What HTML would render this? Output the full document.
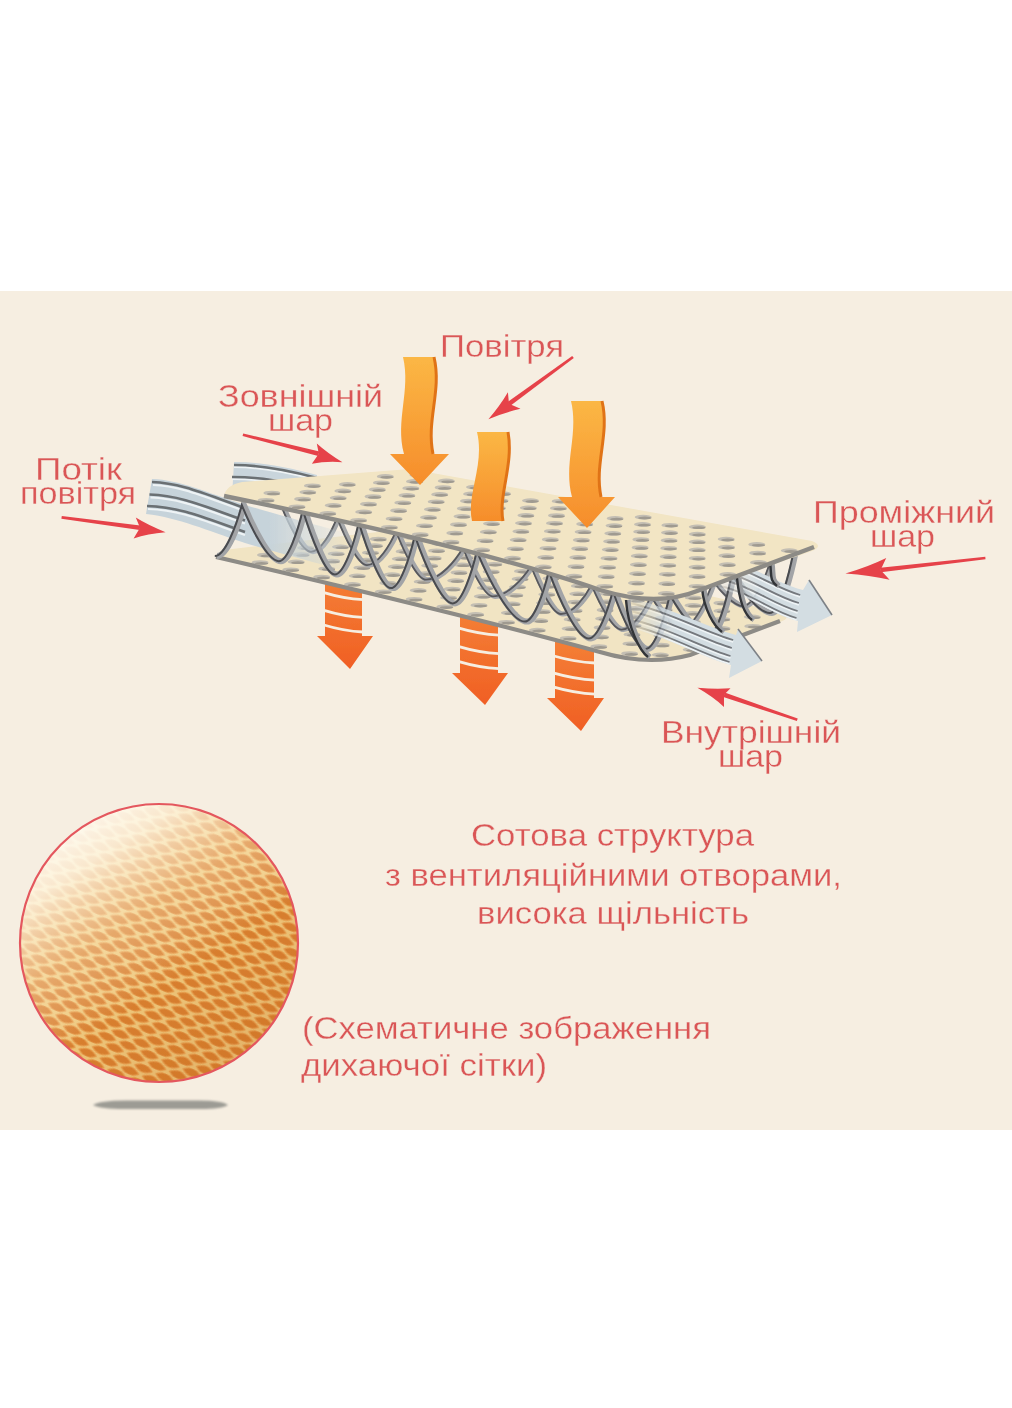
<!DOCTYPE html><html><head><meta charset="utf-8"><style>
html,body{margin:0;padding:0;background:#fff;}
body{width:1012px;height:1408px;overflow:hidden;position:relative;}
svg{position:absolute;left:0;top:0;}
text{font-family:"Liberation Sans",sans-serif;}
</style></head><body>
<svg width="1012" height="1408" viewBox="0 0 1012 1408">
<defs>
<pattern id="dots" width="39" height="9.6" patternUnits="userSpaceOnUse" patternTransform="translate(222,495) skewY(11)">
<g transform="translate(19,5) skewY(-11)"><ellipse cx="0" cy="0" rx="8" ry="2.7" fill="#c5c1b7"/>
<ellipse cx="1.5" cy="0.9" rx="6.5" ry="1.7" fill="#a7a297"/></g>
</pattern>
<linearGradient id="og1" x1="0" y1="0" x2="0" y2="1">
<stop offset="0" stop-color="#fbb745"/><stop offset="1" stop-color="#f68d2b"/>
</linearGradient>
<linearGradient id="og2" x1="0" y1="0" x2="0" y2="1">
<stop offset="0" stop-color="#f58438"/><stop offset="1" stop-color="#f05f24"/>
</linearGradient>
<linearGradient id="bandfade" x1="0" y1="0" x2="1" y2="0">
<stop offset="0" stop-color="#c6d3da" stop-opacity="1"/><stop offset="0.6" stop-color="#c6d3da" stop-opacity="1"/><stop offset="1" stop-color="#c6d3da" stop-opacity="0"/>
</linearGradient>
<linearGradient id="meshHi" x1="0.15" y1="0.0" x2="0.75" y2="0.9">
<stop offset="0" stop-color="#ffffff" stop-opacity="1"/>
<stop offset="0.22" stop-color="#fffaea" stop-opacity="0.85"/>
<stop offset="0.45" stop-color="#fff4d8" stop-opacity="0.35"/>
<stop offset="0.68" stop-color="#ffffff" stop-opacity="0"/>
</linearGradient>
<linearGradient id="meshSh" x1="0.2" y1="0.1" x2="0.8" y2="0.95">
<stop offset="0.5" stop-color="#b85a10" stop-opacity="0"/>
<stop offset="1" stop-color="#b05510" stop-opacity="0.2"/>
</linearGradient>
<pattern id="mesh" width="23" height="15" patternUnits="userSpaceOnUse" patternTransform="translate(20,800) rotate(23)">
<rect width="23" height="15" fill="#efc87c"/>
<path d="M1.0999999999999996,3.75 Q11.5,-5.25 21.9,3.75 Q11.5,12.75 1.0999999999999996,3.75 Z" fill="#e9a150"/><path d="M2.9000000000000004,3.75 Q11.5,-3.25 20.1,3.75 Q11.5,10.75 2.9000000000000004,3.75 Z" fill="#d98030"/><path d="M-10.4,11.25 Q0,2.25 10.4,11.25 Q0,20.25 -10.4,11.25 Z" fill="#e9a150"/><path d="M-8.6,11.25 Q0,4.25 8.6,11.25 Q0,18.25 -8.6,11.25 Z" fill="#d98030"/><path d="M12.6,11.25 Q23,2.25 33.4,11.25 Q23,20.25 12.6,11.25 Z" fill="#e9a150"/><path d="M14.4,11.25 Q23,4.25 31.6,11.25 Q23,18.25 14.4,11.25 Z" fill="#d98030"/>
</pattern>
<clipPath id="circ"><circle cx="159" cy="943" r="139"/></clipPath>
<filter id="blur3" x="-50%" y="-200%" width="200%" height="500%"><feGaussianBlur stdDeviation="1.3 1.1"/></filter>
<filter id="blur1"><feGaussianBlur stdDeviation="0.55"/></filter>
</defs>
<rect x="0" y="291" width="1012" height="839" fill="#f6eee1"/>
<g filter="url(#blur1)"><path d="M234,462 C262,462 287,467 317,475 L317,512 C287,504 262,499 232,497 Z" fill="#c9d5dc"/><path d="M234,467 C262,467 287,472 317,480" stroke="#eef3f5" stroke-width="2" fill="none"/><path d="M234,465 C262,465 287,470 317,478" stroke="#6b6f73" stroke-width="2.6" fill="none"/><path d="M232,479 C262,479 287,484 317,492" stroke="#eef3f5" stroke-width="2" fill="none"/><path d="M232,477 C262,477 287,482 317,490" stroke="#6b6f73" stroke-width="2.6" fill="none"/><path d="M325,562 L362,562 L362,636 L373,636 L350,669 L317,636 L325,636 Z" fill="url(#og2)"/><path d="M324,592.6 Q343.5,598.6 363,599.6" stroke="#f6eee1" stroke-width="2.8" fill="none"/><path d="M324,610.4 Q343.5,616.4 363,617.4" stroke="#f6eee1" stroke-width="2.8" fill="none"/><path d="M324,625.0 Q343.5,631.0 363,632.0" stroke="#f6eee1" stroke-width="2.8" fill="none"/><path d="M460,597 L498,597 L498,673 L508,673 L485,705 L452,673 L460,673 Z" fill="url(#og2)"/><path d="M459,628.1 Q479.0,634.1 499,635.1" stroke="#f6eee1" stroke-width="2.8" fill="none"/><path d="M459,646.6 Q479.0,652.6 499,653.6" stroke="#f6eee1" stroke-width="2.8" fill="none"/><path d="M459,661.7 Q479.0,667.7 499,668.7" stroke="#f6eee1" stroke-width="2.8" fill="none"/><path d="M555,626 L594,626 L594,698 L604,698 L581,731 L547,698 L555,698 Z" fill="url(#og2)"/><path d="M554,656.0 Q574.5,662.0 595,663.0" stroke="#f6eee1" stroke-width="2.8" fill="none"/><path d="M554,673.2 Q574.5,679.2 595,680.2" stroke="#f6eee1" stroke-width="2.8" fill="none"/><path d="M554,687.2 Q574.5,693.2 595,694.2" stroke="#f6eee1" stroke-width="2.8" fill="none"/><path d="M216,557 Q219,551 232,549 L420,527 L782,613 Q792,618 780,622 L690,655 C660,663 630,661 600,652 C520,630 380,595 216,557 Z" fill="#f1e4c3"/><clipPath id="bsclip"><path d="M216,557 Q219,551 232,549 L420,527 L782,613 Q792,618 780,622 L690,655 C660,663 630,661 600,652 C520,630 380,595 216,557 Z"/></clipPath><g clip-path="url(#bsclip)"><ellipse cx="260.0" cy="562.5" rx="8.5" ry="2.3" fill="#c3beb3"/><ellipse cx="261.6" cy="563.4" rx="6.7" ry="1.4" fill="#9f9a90"/><ellipse cx="265.5" cy="555.0" rx="8.5" ry="2.3" fill="#c3beb3"/><ellipse cx="267.1" cy="555.9" rx="6.7" ry="1.4" fill="#9f9a90"/><ellipse cx="290.8" cy="569.7" rx="8.5" ry="2.3" fill="#c3beb3"/><ellipse cx="292.4" cy="570.6" rx="6.7" ry="1.4" fill="#9f9a90"/><ellipse cx="296.2" cy="561.8" rx="8.5" ry="2.3" fill="#c3beb3"/><ellipse cx="297.8" cy="562.7" rx="6.7" ry="1.4" fill="#9f9a90"/><ellipse cx="301.2" cy="554.5" rx="8.5" ry="2.3" fill="#c3beb3"/><ellipse cx="302.8" cy="555.4" rx="6.7" ry="1.4" fill="#9f9a90"/><ellipse cx="305.7" cy="547.8" rx="8.5" ry="2.3" fill="#c3beb3"/><ellipse cx="307.3" cy="548.7" rx="6.7" ry="1.4" fill="#9f9a90"/><ellipse cx="321.7" cy="577.0" rx="8.5" ry="2.3" fill="#c3beb3"/><ellipse cx="323.3" cy="577.9" rx="6.7" ry="1.4" fill="#9f9a90"/><ellipse cx="326.8" cy="568.7" rx="8.5" ry="2.3" fill="#c3beb3"/><ellipse cx="328.4" cy="569.6" rx="6.7" ry="1.4" fill="#9f9a90"/><ellipse cx="331.6" cy="561.0" rx="8.5" ry="2.3" fill="#c3beb3"/><ellipse cx="333.2" cy="561.9" rx="6.7" ry="1.4" fill="#9f9a90"/><ellipse cx="336.2" cy="553.7" rx="8.5" ry="2.3" fill="#c3beb3"/><ellipse cx="337.8" cy="554.6" rx="6.7" ry="1.4" fill="#9f9a90"/><ellipse cx="340.5" cy="546.8" rx="8.5" ry="2.3" fill="#c3beb3"/><ellipse cx="342.1" cy="547.7" rx="6.7" ry="1.4" fill="#9f9a90"/><ellipse cx="352.5" cy="584.3" rx="8.5" ry="2.3" fill="#c3beb3"/><ellipse cx="354.1" cy="585.2" rx="6.7" ry="1.4" fill="#9f9a90"/><ellipse cx="357.3" cy="575.8" rx="8.5" ry="2.3" fill="#c3beb3"/><ellipse cx="358.9" cy="576.7" rx="6.7" ry="1.4" fill="#9f9a90"/><ellipse cx="361.9" cy="567.7" rx="8.5" ry="2.3" fill="#c3beb3"/><ellipse cx="363.5" cy="568.6" rx="6.7" ry="1.4" fill="#9f9a90"/><ellipse cx="366.3" cy="560.0" rx="8.5" ry="2.3" fill="#c3beb3"/><ellipse cx="367.9" cy="560.9" rx="6.7" ry="1.4" fill="#9f9a90"/><ellipse cx="370.5" cy="552.7" rx="8.5" ry="2.3" fill="#c3beb3"/><ellipse cx="372.1" cy="553.6" rx="6.7" ry="1.4" fill="#9f9a90"/><ellipse cx="374.5" cy="545.6" rx="8.5" ry="2.3" fill="#c3beb3"/><ellipse cx="376.1" cy="546.5" rx="6.7" ry="1.4" fill="#9f9a90"/><ellipse cx="378.3" cy="539.0" rx="8.5" ry="2.3" fill="#c3beb3"/><ellipse cx="379.9" cy="539.9" rx="6.7" ry="1.4" fill="#9f9a90"/><ellipse cx="383.3" cy="591.7" rx="8.5" ry="2.3" fill="#c3beb3"/><ellipse cx="384.9" cy="592.6" rx="6.7" ry="1.4" fill="#9f9a90"/><ellipse cx="387.8" cy="583.0" rx="8.5" ry="2.3" fill="#c3beb3"/><ellipse cx="389.4" cy="583.9" rx="6.7" ry="1.4" fill="#9f9a90"/><ellipse cx="392.1" cy="574.6" rx="8.5" ry="2.3" fill="#c3beb3"/><ellipse cx="393.7" cy="575.5" rx="6.7" ry="1.4" fill="#9f9a90"/><ellipse cx="396.3" cy="566.6" rx="8.5" ry="2.3" fill="#c3beb3"/><ellipse cx="397.9" cy="567.5" rx="6.7" ry="1.4" fill="#9f9a90"/><ellipse cx="400.3" cy="558.8" rx="8.5" ry="2.3" fill="#c3beb3"/><ellipse cx="401.9" cy="559.7" rx="6.7" ry="1.4" fill="#9f9a90"/><ellipse cx="404.1" cy="551.4" rx="8.5" ry="2.3" fill="#c3beb3"/><ellipse cx="405.7" cy="552.3" rx="6.7" ry="1.4" fill="#9f9a90"/><ellipse cx="407.8" cy="544.2" rx="8.5" ry="2.3" fill="#c3beb3"/><ellipse cx="409.4" cy="545.1" rx="6.7" ry="1.4" fill="#9f9a90"/><ellipse cx="411.4" cy="537.4" rx="8.5" ry="2.3" fill="#c3beb3"/><ellipse cx="413.0" cy="538.3" rx="6.7" ry="1.4" fill="#9f9a90"/><ellipse cx="414.8" cy="530.8" rx="8.5" ry="2.3" fill="#c3beb3"/><ellipse cx="416.4" cy="531.7" rx="6.7" ry="1.4" fill="#9f9a90"/><ellipse cx="414.1" cy="599.2" rx="8.5" ry="2.3" fill="#c3beb3"/><ellipse cx="415.7" cy="600.1" rx="6.7" ry="1.4" fill="#9f9a90"/><ellipse cx="418.2" cy="590.3" rx="8.5" ry="2.3" fill="#c3beb3"/><ellipse cx="419.8" cy="591.2" rx="6.7" ry="1.4" fill="#9f9a90"/><ellipse cx="422.2" cy="581.7" rx="8.5" ry="2.3" fill="#c3beb3"/><ellipse cx="423.8" cy="582.6" rx="6.7" ry="1.4" fill="#9f9a90"/><ellipse cx="426.0" cy="573.5" rx="8.5" ry="2.3" fill="#c3beb3"/><ellipse cx="427.6" cy="574.4" rx="6.7" ry="1.4" fill="#9f9a90"/><ellipse cx="429.7" cy="565.6" rx="8.5" ry="2.3" fill="#c3beb3"/><ellipse cx="431.3" cy="566.5" rx="6.7" ry="1.4" fill="#9f9a90"/><ellipse cx="433.2" cy="558.0" rx="8.5" ry="2.3" fill="#c3beb3"/><ellipse cx="434.8" cy="558.9" rx="6.7" ry="1.4" fill="#9f9a90"/><ellipse cx="436.6" cy="550.7" rx="8.5" ry="2.3" fill="#c3beb3"/><ellipse cx="438.2" cy="551.6" rx="6.7" ry="1.4" fill="#9f9a90"/><ellipse cx="439.9" cy="543.6" rx="8.5" ry="2.3" fill="#c3beb3"/><ellipse cx="441.5" cy="544.5" rx="6.7" ry="1.4" fill="#9f9a90"/><ellipse cx="443.0" cy="536.9" rx="8.5" ry="2.3" fill="#c3beb3"/><ellipse cx="444.6" cy="537.8" rx="6.7" ry="1.4" fill="#9f9a90"/><ellipse cx="444.9" cy="606.7" rx="8.5" ry="2.3" fill="#c3beb3"/><ellipse cx="446.5" cy="607.6" rx="6.7" ry="1.4" fill="#9f9a90"/><ellipse cx="448.6" cy="597.7" rx="8.5" ry="2.3" fill="#c3beb3"/><ellipse cx="450.2" cy="598.6" rx="6.7" ry="1.4" fill="#9f9a90"/><ellipse cx="452.2" cy="589.0" rx="8.5" ry="2.3" fill="#c3beb3"/><ellipse cx="453.8" cy="589.9" rx="6.7" ry="1.4" fill="#9f9a90"/><ellipse cx="455.7" cy="580.6" rx="8.5" ry="2.3" fill="#c3beb3"/><ellipse cx="457.3" cy="581.5" rx="6.7" ry="1.4" fill="#9f9a90"/><ellipse cx="459.0" cy="572.5" rx="8.5" ry="2.3" fill="#c3beb3"/><ellipse cx="460.6" cy="573.4" rx="6.7" ry="1.4" fill="#9f9a90"/><ellipse cx="462.2" cy="564.8" rx="8.5" ry="2.3" fill="#c3beb3"/><ellipse cx="463.8" cy="565.7" rx="6.7" ry="1.4" fill="#9f9a90"/><ellipse cx="465.3" cy="557.3" rx="8.5" ry="2.3" fill="#c3beb3"/><ellipse cx="466.9" cy="558.2" rx="6.7" ry="1.4" fill="#9f9a90"/><ellipse cx="468.2" cy="550.2" rx="8.5" ry="2.3" fill="#c3beb3"/><ellipse cx="469.8" cy="551.1" rx="6.7" ry="1.4" fill="#9f9a90"/><ellipse cx="471.1" cy="543.3" rx="8.5" ry="2.3" fill="#c3beb3"/><ellipse cx="472.7" cy="544.2" rx="6.7" ry="1.4" fill="#9f9a90"/><ellipse cx="475.7" cy="614.4" rx="8.5" ry="2.3" fill="#c3beb3"/><ellipse cx="477.3" cy="615.3" rx="6.7" ry="1.4" fill="#9f9a90"/><ellipse cx="479.0" cy="605.2" rx="8.5" ry="2.3" fill="#c3beb3"/><ellipse cx="480.6" cy="606.1" rx="6.7" ry="1.4" fill="#9f9a90"/><ellipse cx="482.3" cy="596.3" rx="8.5" ry="2.3" fill="#c3beb3"/><ellipse cx="483.9" cy="597.2" rx="6.7" ry="1.4" fill="#9f9a90"/><ellipse cx="485.3" cy="587.8" rx="8.5" ry="2.3" fill="#c3beb3"/><ellipse cx="486.9" cy="588.7" rx="6.7" ry="1.4" fill="#9f9a90"/><ellipse cx="488.3" cy="579.6" rx="8.5" ry="2.3" fill="#c3beb3"/><ellipse cx="489.9" cy="580.5" rx="6.7" ry="1.4" fill="#9f9a90"/><ellipse cx="491.2" cy="571.7" rx="8.5" ry="2.3" fill="#c3beb3"/><ellipse cx="492.8" cy="572.6" rx="6.7" ry="1.4" fill="#9f9a90"/><ellipse cx="493.9" cy="564.2" rx="8.5" ry="2.3" fill="#c3beb3"/><ellipse cx="495.5" cy="565.1" rx="6.7" ry="1.4" fill="#9f9a90"/><ellipse cx="496.5" cy="556.9" rx="8.5" ry="2.3" fill="#c3beb3"/><ellipse cx="498.1" cy="557.8" rx="6.7" ry="1.4" fill="#9f9a90"/><ellipse cx="499.1" cy="549.9" rx="8.5" ry="2.3" fill="#c3beb3"/><ellipse cx="500.7" cy="550.8" rx="6.7" ry="1.4" fill="#9f9a90"/><ellipse cx="506.5" cy="622.2" rx="8.5" ry="2.3" fill="#c3beb3"/><ellipse cx="508.1" cy="623.1" rx="6.7" ry="1.4" fill="#9f9a90"/><ellipse cx="509.4" cy="612.8" rx="8.5" ry="2.3" fill="#c3beb3"/><ellipse cx="511.0" cy="613.7" rx="6.7" ry="1.4" fill="#9f9a90"/><ellipse cx="512.2" cy="603.8" rx="8.5" ry="2.3" fill="#c3beb3"/><ellipse cx="513.8" cy="604.7" rx="6.7" ry="1.4" fill="#9f9a90"/><ellipse cx="514.9" cy="595.2" rx="8.5" ry="2.3" fill="#c3beb3"/><ellipse cx="516.5" cy="596.1" rx="6.7" ry="1.4" fill="#9f9a90"/><ellipse cx="517.5" cy="586.9" rx="8.5" ry="2.3" fill="#c3beb3"/><ellipse cx="519.1" cy="587.8" rx="6.7" ry="1.4" fill="#9f9a90"/><ellipse cx="520.1" cy="578.9" rx="8.5" ry="2.3" fill="#c3beb3"/><ellipse cx="521.7" cy="579.8" rx="6.7" ry="1.4" fill="#9f9a90"/><ellipse cx="522.5" cy="571.2" rx="8.5" ry="2.3" fill="#c3beb3"/><ellipse cx="524.1" cy="572.1" rx="6.7" ry="1.4" fill="#9f9a90"/><ellipse cx="524.8" cy="563.8" rx="8.5" ry="2.3" fill="#c3beb3"/><ellipse cx="526.4" cy="564.7" rx="6.7" ry="1.4" fill="#9f9a90"/><ellipse cx="527.0" cy="556.7" rx="8.5" ry="2.3" fill="#c3beb3"/><ellipse cx="528.6" cy="557.6" rx="6.7" ry="1.4" fill="#9f9a90"/><ellipse cx="537.3" cy="630.1" rx="8.5" ry="2.3" fill="#c3beb3"/><ellipse cx="538.9" cy="631.0" rx="6.7" ry="1.4" fill="#9f9a90"/><ellipse cx="539.8" cy="620.6" rx="8.5" ry="2.3" fill="#c3beb3"/><ellipse cx="541.4" cy="621.5" rx="6.7" ry="1.4" fill="#9f9a90"/><ellipse cx="542.2" cy="611.5" rx="8.5" ry="2.3" fill="#c3beb3"/><ellipse cx="543.8" cy="612.4" rx="6.7" ry="1.4" fill="#9f9a90"/><ellipse cx="544.5" cy="602.8" rx="8.5" ry="2.3" fill="#c3beb3"/><ellipse cx="546.1" cy="603.7" rx="6.7" ry="1.4" fill="#9f9a90"/><ellipse cx="546.8" cy="594.3" rx="8.5" ry="2.3" fill="#c3beb3"/><ellipse cx="548.4" cy="595.2" rx="6.7" ry="1.4" fill="#9f9a90"/><ellipse cx="548.9" cy="586.2" rx="8.5" ry="2.3" fill="#c3beb3"/><ellipse cx="550.5" cy="587.1" rx="6.7" ry="1.4" fill="#9f9a90"/><ellipse cx="551.0" cy="578.4" rx="8.5" ry="2.3" fill="#c3beb3"/><ellipse cx="552.6" cy="579.3" rx="6.7" ry="1.4" fill="#9f9a90"/><ellipse cx="553.0" cy="570.9" rx="8.5" ry="2.3" fill="#c3beb3"/><ellipse cx="554.6" cy="571.8" rx="6.7" ry="1.4" fill="#9f9a90"/><ellipse cx="554.9" cy="563.7" rx="8.5" ry="2.3" fill="#c3beb3"/><ellipse cx="556.5" cy="564.6" rx="6.7" ry="1.4" fill="#9f9a90"/><ellipse cx="568.1" cy="638.2" rx="8.5" ry="2.3" fill="#c3beb3"/><ellipse cx="569.7" cy="639.1" rx="6.7" ry="1.4" fill="#9f9a90"/><ellipse cx="570.1" cy="628.6" rx="8.5" ry="2.3" fill="#c3beb3"/><ellipse cx="571.7" cy="629.5" rx="6.7" ry="1.4" fill="#9f9a90"/><ellipse cx="572.2" cy="619.4" rx="8.5" ry="2.3" fill="#c3beb3"/><ellipse cx="573.8" cy="620.3" rx="6.7" ry="1.4" fill="#9f9a90"/><ellipse cx="574.1" cy="610.5" rx="8.5" ry="2.3" fill="#c3beb3"/><ellipse cx="575.7" cy="611.4" rx="6.7" ry="1.4" fill="#9f9a90"/><ellipse cx="575.9" cy="602.0" rx="8.5" ry="2.3" fill="#c3beb3"/><ellipse cx="577.5" cy="602.9" rx="6.7" ry="1.4" fill="#9f9a90"/><ellipse cx="577.7" cy="593.8" rx="8.5" ry="2.3" fill="#c3beb3"/><ellipse cx="579.3" cy="594.7" rx="6.7" ry="1.4" fill="#9f9a90"/><ellipse cx="579.4" cy="585.9" rx="8.5" ry="2.3" fill="#c3beb3"/><ellipse cx="581.0" cy="586.8" rx="6.7" ry="1.4" fill="#9f9a90"/><ellipse cx="581.1" cy="578.3" rx="8.5" ry="2.3" fill="#c3beb3"/><ellipse cx="582.7" cy="579.2" rx="6.7" ry="1.4" fill="#9f9a90"/><ellipse cx="582.7" cy="571.0" rx="8.5" ry="2.3" fill="#c3beb3"/><ellipse cx="584.3" cy="571.9" rx="6.7" ry="1.4" fill="#9f9a90"/><ellipse cx="598.8" cy="646.5" rx="8.5" ry="2.3" fill="#c3beb3"/><ellipse cx="600.4" cy="647.4" rx="6.7" ry="1.4" fill="#9f9a90"/><ellipse cx="600.5" cy="636.9" rx="8.5" ry="2.3" fill="#c3beb3"/><ellipse cx="602.1" cy="637.8" rx="6.7" ry="1.4" fill="#9f9a90"/><ellipse cx="602.1" cy="627.5" rx="8.5" ry="2.3" fill="#c3beb3"/><ellipse cx="603.7" cy="628.4" rx="6.7" ry="1.4" fill="#9f9a90"/><ellipse cx="603.6" cy="618.6" rx="8.5" ry="2.3" fill="#c3beb3"/><ellipse cx="605.2" cy="619.5" rx="6.7" ry="1.4" fill="#9f9a90"/><ellipse cx="605.1" cy="610.0" rx="8.5" ry="2.3" fill="#c3beb3"/><ellipse cx="606.7" cy="610.9" rx="6.7" ry="1.4" fill="#9f9a90"/><ellipse cx="606.5" cy="601.7" rx="8.5" ry="2.3" fill="#c3beb3"/><ellipse cx="608.1" cy="602.6" rx="6.7" ry="1.4" fill="#9f9a90"/><ellipse cx="607.9" cy="593.7" rx="8.5" ry="2.3" fill="#c3beb3"/><ellipse cx="609.5" cy="594.6" rx="6.7" ry="1.4" fill="#9f9a90"/><ellipse cx="609.2" cy="586.0" rx="8.5" ry="2.3" fill="#c3beb3"/><ellipse cx="610.8" cy="586.9" rx="6.7" ry="1.4" fill="#9f9a90"/><ellipse cx="610.5" cy="578.6" rx="8.5" ry="2.3" fill="#c3beb3"/><ellipse cx="612.1" cy="579.5" rx="6.7" ry="1.4" fill="#9f9a90"/><ellipse cx="629.6" cy="653.5" rx="8.5" ry="2.3" fill="#c3beb3"/><ellipse cx="631.2" cy="654.4" rx="6.7" ry="1.4" fill="#9f9a90"/><ellipse cx="630.9" cy="643.7" rx="8.5" ry="2.3" fill="#c3beb3"/><ellipse cx="632.5" cy="644.6" rx="6.7" ry="1.4" fill="#9f9a90"/><ellipse cx="632.0" cy="634.4" rx="8.5" ry="2.3" fill="#c3beb3"/><ellipse cx="633.6" cy="635.3" rx="6.7" ry="1.4" fill="#9f9a90"/><ellipse cx="633.2" cy="625.3" rx="8.5" ry="2.3" fill="#c3beb3"/><ellipse cx="634.8" cy="626.2" rx="6.7" ry="1.4" fill="#9f9a90"/><ellipse cx="634.3" cy="616.7" rx="8.5" ry="2.3" fill="#c3beb3"/><ellipse cx="635.9" cy="617.6" rx="6.7" ry="1.4" fill="#9f9a90"/><ellipse cx="635.3" cy="608.3" rx="8.5" ry="2.3" fill="#c3beb3"/><ellipse cx="636.9" cy="609.2" rx="6.7" ry="1.4" fill="#9f9a90"/><ellipse cx="636.4" cy="600.3" rx="8.5" ry="2.3" fill="#c3beb3"/><ellipse cx="638.0" cy="601.2" rx="6.7" ry="1.4" fill="#9f9a90"/><ellipse cx="637.3" cy="592.5" rx="8.5" ry="2.3" fill="#c3beb3"/><ellipse cx="638.9" cy="593.4" rx="6.7" ry="1.4" fill="#9f9a90"/><ellipse cx="638.3" cy="585.1" rx="8.5" ry="2.3" fill="#c3beb3"/><ellipse cx="639.9" cy="586.0" rx="6.7" ry="1.4" fill="#9f9a90"/><ellipse cx="660.4" cy="654.8" rx="8.5" ry="2.3" fill="#c3beb3"/><ellipse cx="662.0" cy="655.7" rx="6.7" ry="1.4" fill="#9f9a90"/><ellipse cx="661.2" cy="645.0" rx="8.5" ry="2.3" fill="#c3beb3"/><ellipse cx="662.8" cy="645.9" rx="6.7" ry="1.4" fill="#9f9a90"/><ellipse cx="662.0" cy="635.7" rx="8.5" ry="2.3" fill="#c3beb3"/><ellipse cx="663.6" cy="636.6" rx="6.7" ry="1.4" fill="#9f9a90"/><ellipse cx="662.8" cy="626.7" rx="8.5" ry="2.3" fill="#c3beb3"/><ellipse cx="664.4" cy="627.6" rx="6.7" ry="1.4" fill="#9f9a90"/><ellipse cx="663.5" cy="618.0" rx="8.5" ry="2.3" fill="#c3beb3"/><ellipse cx="665.1" cy="618.9" rx="6.7" ry="1.4" fill="#9f9a90"/><ellipse cx="664.2" cy="609.7" rx="8.5" ry="2.3" fill="#c3beb3"/><ellipse cx="665.8" cy="610.6" rx="6.7" ry="1.4" fill="#9f9a90"/><ellipse cx="664.8" cy="601.8" rx="8.5" ry="2.3" fill="#c3beb3"/><ellipse cx="666.4" cy="602.7" rx="6.7" ry="1.4" fill="#9f9a90"/><ellipse cx="665.5" cy="594.2" rx="8.5" ry="2.3" fill="#c3beb3"/><ellipse cx="667.1" cy="595.1" rx="6.7" ry="1.4" fill="#9f9a90"/><ellipse cx="691.2" cy="649.6" rx="8.5" ry="2.3" fill="#c3beb3"/><ellipse cx="692.8" cy="650.5" rx="6.7" ry="1.4" fill="#9f9a90"/><ellipse cx="691.6" cy="639.9" rx="8.5" ry="2.3" fill="#c3beb3"/><ellipse cx="693.2" cy="640.8" rx="6.7" ry="1.4" fill="#9f9a90"/><ellipse cx="692.0" cy="630.6" rx="8.5" ry="2.3" fill="#c3beb3"/><ellipse cx="693.6" cy="631.5" rx="6.7" ry="1.4" fill="#9f9a90"/><ellipse cx="692.3" cy="621.7" rx="8.5" ry="2.3" fill="#c3beb3"/><ellipse cx="693.9" cy="622.6" rx="6.7" ry="1.4" fill="#9f9a90"/><ellipse cx="692.7" cy="613.3" rx="8.5" ry="2.3" fill="#c3beb3"/><ellipse cx="694.3" cy="614.2" rx="6.7" ry="1.4" fill="#9f9a90"/><ellipse cx="693.0" cy="605.3" rx="8.5" ry="2.3" fill="#c3beb3"/><ellipse cx="694.6" cy="606.2" rx="6.7" ry="1.4" fill="#9f9a90"/><ellipse cx="693.3" cy="597.7" rx="8.5" ry="2.3" fill="#c3beb3"/><ellipse cx="694.9" cy="598.6" rx="6.7" ry="1.4" fill="#9f9a90"/><ellipse cx="722.0" cy="637.9" rx="8.5" ry="2.3" fill="#c3beb3"/><ellipse cx="723.6" cy="638.8" rx="6.7" ry="1.4" fill="#9f9a90"/><ellipse cx="722.0" cy="628.3" rx="8.5" ry="2.3" fill="#c3beb3"/><ellipse cx="723.6" cy="629.2" rx="6.7" ry="1.4" fill="#9f9a90"/><ellipse cx="721.9" cy="619.2" rx="8.5" ry="2.3" fill="#c3beb3"/><ellipse cx="723.5" cy="620.1" rx="6.7" ry="1.4" fill="#9f9a90"/><ellipse cx="721.9" cy="610.9" rx="8.5" ry="2.3" fill="#c3beb3"/><ellipse cx="723.5" cy="611.8" rx="6.7" ry="1.4" fill="#9f9a90"/><ellipse cx="721.9" cy="603.0" rx="8.5" ry="2.3" fill="#c3beb3"/><ellipse cx="723.5" cy="603.9" rx="6.7" ry="1.4" fill="#9f9a90"/><ellipse cx="752.8" cy="626.2" rx="8.5" ry="2.3" fill="#c3beb3"/><ellipse cx="754.4" cy="627.1" rx="6.7" ry="1.4" fill="#9f9a90"/><ellipse cx="752.3" cy="616.8" rx="8.5" ry="2.3" fill="#c3beb3"/><ellipse cx="753.9" cy="617.7" rx="6.7" ry="1.4" fill="#9f9a90"/></g><path d="M216,557 C380,595 520,630 600,652 C630,661 660,663 690,655 L780,621" stroke="#8d8b86" stroke-width="4.2" fill="none"/><path d="M283.0,505.4 C290.5,523.9 304.0,551.8 313.0,551.8 C322.9,551.8 333.8,531.3 339.0,517.6 C346.5,536.7 360.0,565.2 369.0,565.2 C380.0,565.2 392.2,544.8 398.0,531.2 C405.5,550.6 419.0,579.7 428.0,579.7 C442.1,579.7 457.6,560.5 465.0,547.7 C472.5,567.2 486.0,596.4 495.0,596.4 C509.4,596.4 525.4,578.2 533.0,566.0 C540.5,585.2 554.0,614.0 563.0,614.0 C574.6,614.0 587.4,596.5 593.5,584.8 C601.0,602.7 614.5,629.6 623.5,629.6 C634.7,629.6 647.1,609.4 653.0,596.0 C660.5,609.1 674.0,628.7 683.0,628.7 C695.2,628.7 708.6,600.2 715.0,581.3 C722.5,591.2 736.0,606.2 745.0,606.2 C755.6,606.2 767.4,577.9 773.0,559.1" stroke="#a4a6a9" stroke-width="5" fill="none"/><path d="M283.0,505.4 C290.5,523.9 304.0,551.8 313.0,551.8 C322.9,551.8 333.8,531.3 339.0,517.6 C346.5,536.7 360.0,565.2 369.0,565.2 C380.0,565.2 392.2,544.8 398.0,531.2 C405.5,550.6 419.0,579.7 428.0,579.7 C442.1,579.7 457.6,560.5 465.0,547.7 C472.5,567.2 486.0,596.4 495.0,596.4 C509.4,596.4 525.4,578.2 533.0,566.0 C540.5,585.2 554.0,614.0 563.0,614.0 C574.6,614.0 587.4,596.5 593.5,584.8 C601.0,602.7 614.5,629.6 623.5,629.6 C634.7,629.6 647.1,609.4 653.0,596.0 C660.5,609.1 674.0,628.7 683.0,628.7 C695.2,628.7 708.6,600.2 715.0,581.3 C722.5,591.2 736.0,606.2 745.0,606.2 C755.6,606.2 767.4,577.9 773.0,559.1" stroke="#58595d" stroke-width="1.8" fill="none" transform="translate(-2,0)"/><path d="M152,479 C180,480 205,492 245,505 C290,518 320,526 350,534 L350,572 C320,564 290,556 245,543 C205,530 180,518 146,514 Z" fill="url(#bandfade)"/><path d="M153.0,485 C182,486 207,498 245,511" stroke="#eef3f5" stroke-width="2.2" fill="none"/><path d="M152.0,482 C182,483 207,495 245,508" stroke="#6b6f73" stroke-width="2.6" fill="none"/><path d="M150.5,497.5 C182,498.5 207,510.5 245,523.5" stroke="#eef3f5" stroke-width="2.2" fill="none"/><path d="M149.5,494.5 C182,495.5 207,507.5 245,520.5" stroke="#6b6f73" stroke-width="2.6" fill="none"/><path d="M148.0,509 C182,510 207,522 245,535" stroke="#eef3f5" stroke-width="2.2" fill="none"/><path d="M147.0,506 C182,507 207,519 245,532" stroke="#6b6f73" stroke-width="2.6" fill="none"/><path d="M217.0,556.0 C227.3,556.0 238.6,525.5 244.0,505.1 C253.2,527.6 269.9,561.2 281.0,561.2 C290.1,561.2 300.2,530.5 305.0,510.1 C313.0,535.9 327.4,574.5 337.0,574.5 C346.1,574.5 356.2,543.4 361.0,522.6 C369.0,548.8 383.4,588.1 393.0,588.1 C402.1,588.1 412.2,556.7 417.0,535.7 C426.5,562.8 443.6,603.4 455.0,603.4 C464.1,603.4 474.2,572.1 479.0,551.3 C491.0,579.4 512.6,621.6 527.0,621.6 C536.1,621.6 546.2,591.4 551.0,571.3 C561.0,598.2 579.0,638.5 591.0,638.5 C600.1,638.5 610.2,610.0 615.0,591.0 C623.2,614.2 638.1,649.0 648.0,649.0 C657.1,649.0 667.2,616.4 672.0,594.7 C681.5,611.4 698.6,636.4 710.0,636.4 C719.1,636.4 729.2,599.0 734.0,574.0 C743.5,589.6 760.6,613.0 772.0,613.0 C781.1,613.0 791.2,575.4 796.0,550.3" stroke="#a2a4a7" stroke-width="6" fill="none"/><path d="M217.0,556.0 C227.3,556.0 238.6,525.5 244.0,505.1 C253.2,527.6 269.9,561.2 281.0,561.2 C290.1,561.2 300.2,530.5 305.0,510.1 C313.0,535.9 327.4,574.5 337.0,574.5 C346.1,574.5 356.2,543.4 361.0,522.6 C369.0,548.8 383.4,588.1 393.0,588.1 C402.1,588.1 412.2,556.7 417.0,535.7 C426.5,562.8 443.6,603.4 455.0,603.4 C464.1,603.4 474.2,572.1 479.0,551.3 C491.0,579.4 512.6,621.6 527.0,621.6 C536.1,621.6 546.2,591.4 551.0,571.3 C561.0,598.2 579.0,638.5 591.0,638.5 C600.1,638.5 610.2,610.0 615.0,591.0 C623.2,614.2 638.1,649.0 648.0,649.0 C657.1,649.0 667.2,616.4 672.0,594.7 C681.5,611.4 698.6,636.4 710.0,636.4 C719.1,636.4 729.2,599.0 734.0,574.0 C743.5,589.6 760.6,613.0 772.0,613.0 C781.1,613.0 791.2,575.4 796.0,550.3" stroke="#4a4b4f" stroke-width="2" fill="none" transform="translate(-2.2,0)"/><linearGradient id="fadeA" gradientUnits="userSpaceOnUse" x1="712" y1="0" x2="760" y2="0"><stop offset="0" stop-color="#fff" stop-opacity="0"/><stop offset="1" stop-color="#fff" stop-opacity="1"/></linearGradient><mask id="mA"><rect x="600" y="500" width="300" height="200" fill="url(#fadeA)"/></mask><linearGradient id="fadeB" gradientUnits="userSpaceOnUse" x1="625" y1="0" x2="675" y2="0"><stop offset="0" stop-color="#fff" stop-opacity="0"/><stop offset="1" stop-color="#fff" stop-opacity="1"/></linearGradient><mask id="mB"><rect x="600" y="500" width="300" height="200" fill="url(#fadeB)"/></mask><g mask="url(#mA)"><path d="M712,556 C752,564 773,582 803,590 L809,580 L832,615 L797,632 L798,621 C768,613 752,595 712,587 Z" fill="#d3dde2"/><path d="M712,562.8 C752,570.8 772.1935483870968,588.8 800.1935483870968,596.8" stroke="#eef3f5" stroke-width="1.8" fill="none"/><path d="M712,561 C752,569 772.1935483870968,587 800.1935483870968,595" stroke="#74787d" stroke-width="1.8" fill="none"/><path d="M712,570.8 C752,578.8 770.9032258064516,596.8 798.9032258064516,604.8" stroke="#eef3f5" stroke-width="1.8" fill="none"/><path d="M712,569 C752,577 770.9032258064516,595 798.9032258064516,603" stroke="#74787d" stroke-width="1.8" fill="none"/><path d="M712,578.8 C752,586.8 769.6129032258065,604.8 797.6129032258065,612.8" stroke="#eef3f5" stroke-width="1.8" fill="none"/><path d="M712,577 C752,585 769.6129032258065,603 797.6129032258065,611" stroke="#74787d" stroke-width="1.8" fill="none"/><path d="M712,585.8 C752,593.8 768.483870967742,611.8 796.483870967742,619.8" stroke="#eef3f5" stroke-width="1.8" fill="none"/><path d="M712,584 C752,592 768.483870967742,610 796.483870967742,618" stroke="#74787d" stroke-width="1.8" fill="none"/><path d="M809,580 L832,615" stroke="#7d8186" stroke-width="1.6"/></g><g mask="url(#mB)"><path d="M625,597 C665,605 706,627 736,635 L738,629 L762,661 L729,678 L731,665 C701,657 665,635 625,627 Z" fill="#d3dde2"/><path d="M625,603.8 C665,611.8 705.1666666666666,633.8 733.1666666666666,641.8" stroke="#eef3f5" stroke-width="1.8" fill="none"/><path d="M625,602 C665,610 705.1666666666666,632 733.1666666666666,640" stroke="#74787d" stroke-width="1.8" fill="none"/><path d="M625,611.8 C665,619.8 703.8333333333334,641.8 731.8333333333334,649.8" stroke="#eef3f5" stroke-width="1.8" fill="none"/><path d="M625,610 C665,618 703.8333333333334,640 731.8333333333334,648" stroke="#74787d" stroke-width="1.8" fill="none"/><path d="M625,619.8 C665,627.8 702.5,649.8 730.5,657.8" stroke="#eef3f5" stroke-width="1.8" fill="none"/><path d="M625,618 C665,626 702.5,648 730.5,656" stroke="#74787d" stroke-width="1.8" fill="none"/><path d="M625,625.8 C665,633.8 701.5,655.8 729.5,663.8" stroke="#eef3f5" stroke-width="1.8" fill="none"/><path d="M625,624 C665,632 701.5,654 729.5,662" stroke="#74787d" stroke-width="1.8" fill="none"/><path d="M738,629 L762,661" stroke="#7d8186" stroke-width="1.6"/></g><path d="M704,588 C706,610.0 716,626 724,632" stroke="#9a9c9f" stroke-width="5" fill="none"/><path d="M702,588 C704,610.0 714,626 722,632" stroke="#333438" stroke-width="2.4" fill="none"/><path d="M739,578 C741,599.0 746,614 754,620" stroke="#9a9c9f" stroke-width="5" fill="none"/><path d="M737,578 C739,599.0 744,614 752,620" stroke="#333438" stroke-width="2.4" fill="none"/><path d="M772,563 C774,574.5 771,580 779,586" stroke="#9a9c9f" stroke-width="5" fill="none"/><path d="M770,563 C772,574.5 769,580 777,586" stroke="#333438" stroke-width="2.4" fill="none"/><path d="M628,600 C630,628.5 642,651 650,657" stroke="#9a9c9f" stroke-width="5" fill="none"/><path d="M626,600 C628,628.5 640,651 648,657" stroke="#333438" stroke-width="2.4" fill="none"/><path d="M224,496 Q226,485 242,482 L410,469 L812,541 Q824,546 812,551 L700,590 C670,602 640,602 600,590 C520,562 380,528 224,496 Z" fill="#f2e5c4"/><clipPath id="tsclip"><path d="M224,496 Q226,485 242,482 L410,469 L812,541 Q824,546 812,551 L700,590 C670,602 640,602 600,590 C520,562 380,528 224,496 Z"/></clipPath><g clip-path="url(#tsclip)"><ellipse cx="266.1" cy="500.2" rx="8.5" ry="2.3" fill="#c3beb3"/><ellipse cx="267.7" cy="501.1" rx="6.7" ry="1.4" fill="#9f9a90"/><ellipse cx="271.9" cy="493.0" rx="8.5" ry="2.3" fill="#c3beb3"/><ellipse cx="273.5" cy="493.9" rx="6.7" ry="1.4" fill="#9f9a90"/><ellipse cx="297.0" cy="506.7" rx="8.5" ry="2.3" fill="#c3beb3"/><ellipse cx="298.6" cy="507.6" rx="6.7" ry="1.4" fill="#9f9a90"/><ellipse cx="302.6" cy="499.0" rx="8.5" ry="2.3" fill="#c3beb3"/><ellipse cx="304.2" cy="499.9" rx="6.7" ry="1.4" fill="#9f9a90"/><ellipse cx="307.8" cy="492.1" rx="8.5" ry="2.3" fill="#c3beb3"/><ellipse cx="309.4" cy="493.0" rx="6.7" ry="1.4" fill="#9f9a90"/><ellipse cx="312.4" cy="485.7" rx="8.5" ry="2.3" fill="#c3beb3"/><ellipse cx="314.0" cy="486.6" rx="6.7" ry="1.4" fill="#9f9a90"/><ellipse cx="327.8" cy="513.4" rx="8.5" ry="2.3" fill="#c3beb3"/><ellipse cx="329.4" cy="514.3" rx="6.7" ry="1.4" fill="#9f9a90"/><ellipse cx="333.2" cy="505.3" rx="8.5" ry="2.3" fill="#c3beb3"/><ellipse cx="334.8" cy="506.2" rx="6.7" ry="1.4" fill="#9f9a90"/><ellipse cx="338.2" cy="497.8" rx="8.5" ry="2.3" fill="#c3beb3"/><ellipse cx="339.8" cy="498.7" rx="6.7" ry="1.4" fill="#9f9a90"/><ellipse cx="342.9" cy="490.9" rx="8.5" ry="2.3" fill="#c3beb3"/><ellipse cx="344.5" cy="491.8" rx="6.7" ry="1.4" fill="#9f9a90"/><ellipse cx="347.3" cy="484.3" rx="8.5" ry="2.3" fill="#c3beb3"/><ellipse cx="348.9" cy="485.2" rx="6.7" ry="1.4" fill="#9f9a90"/><ellipse cx="358.6" cy="520.2" rx="8.5" ry="2.3" fill="#c3beb3"/><ellipse cx="360.2" cy="521.1" rx="6.7" ry="1.4" fill="#9f9a90"/><ellipse cx="363.7" cy="511.9" rx="8.5" ry="2.3" fill="#c3beb3"/><ellipse cx="365.3" cy="512.8" rx="6.7" ry="1.4" fill="#9f9a90"/><ellipse cx="368.5" cy="504.0" rx="8.5" ry="2.3" fill="#c3beb3"/><ellipse cx="370.1" cy="504.9" rx="6.7" ry="1.4" fill="#9f9a90"/><ellipse cx="373.0" cy="496.5" rx="8.5" ry="2.3" fill="#c3beb3"/><ellipse cx="374.6" cy="497.4" rx="6.7" ry="1.4" fill="#9f9a90"/><ellipse cx="377.3" cy="489.5" rx="8.5" ry="2.3" fill="#c3beb3"/><ellipse cx="378.9" cy="490.4" rx="6.7" ry="1.4" fill="#9f9a90"/><ellipse cx="381.4" cy="482.7" rx="8.5" ry="2.3" fill="#c3beb3"/><ellipse cx="383.0" cy="483.6" rx="6.7" ry="1.4" fill="#9f9a90"/><ellipse cx="385.3" cy="476.4" rx="8.5" ry="2.3" fill="#c3beb3"/><ellipse cx="386.9" cy="477.3" rx="6.7" ry="1.4" fill="#9f9a90"/><ellipse cx="389.4" cy="527.2" rx="8.5" ry="2.3" fill="#c3beb3"/><ellipse cx="391.0" cy="528.1" rx="6.7" ry="1.4" fill="#9f9a90"/><ellipse cx="394.1" cy="518.7" rx="8.5" ry="2.3" fill="#c3beb3"/><ellipse cx="395.7" cy="519.6" rx="6.7" ry="1.4" fill="#9f9a90"/><ellipse cx="398.6" cy="510.5" rx="8.5" ry="2.3" fill="#c3beb3"/><ellipse cx="400.2" cy="511.4" rx="6.7" ry="1.4" fill="#9f9a90"/><ellipse cx="402.8" cy="502.7" rx="8.5" ry="2.3" fill="#c3beb3"/><ellipse cx="404.4" cy="503.6" rx="6.7" ry="1.4" fill="#9f9a90"/><ellipse cx="406.9" cy="495.3" rx="8.5" ry="2.3" fill="#c3beb3"/><ellipse cx="408.5" cy="496.2" rx="6.7" ry="1.4" fill="#9f9a90"/><ellipse cx="410.8" cy="488.2" rx="8.5" ry="2.3" fill="#c3beb3"/><ellipse cx="412.4" cy="489.1" rx="6.7" ry="1.4" fill="#9f9a90"/><ellipse cx="414.5" cy="481.4" rx="8.5" ry="2.3" fill="#c3beb3"/><ellipse cx="416.1" cy="482.3" rx="6.7" ry="1.4" fill="#9f9a90"/><ellipse cx="418.0" cy="475.0" rx="8.5" ry="2.3" fill="#c3beb3"/><ellipse cx="419.6" cy="475.9" rx="6.7" ry="1.4" fill="#9f9a90"/><ellipse cx="420.2" cy="534.5" rx="8.5" ry="2.3" fill="#c3beb3"/><ellipse cx="421.8" cy="535.4" rx="6.7" ry="1.4" fill="#9f9a90"/><ellipse cx="424.5" cy="525.7" rx="8.5" ry="2.3" fill="#c3beb3"/><ellipse cx="426.1" cy="526.6" rx="6.7" ry="1.4" fill="#9f9a90"/><ellipse cx="428.5" cy="517.3" rx="8.5" ry="2.3" fill="#c3beb3"/><ellipse cx="430.1" cy="518.2" rx="6.7" ry="1.4" fill="#9f9a90"/><ellipse cx="432.4" cy="509.3" rx="8.5" ry="2.3" fill="#c3beb3"/><ellipse cx="434.0" cy="510.2" rx="6.7" ry="1.4" fill="#9f9a90"/><ellipse cx="436.2" cy="501.7" rx="8.5" ry="2.3" fill="#c3beb3"/><ellipse cx="437.8" cy="502.6" rx="6.7" ry="1.4" fill="#9f9a90"/><ellipse cx="439.7" cy="494.4" rx="8.5" ry="2.3" fill="#c3beb3"/><ellipse cx="441.3" cy="495.3" rx="6.7" ry="1.4" fill="#9f9a90"/><ellipse cx="443.1" cy="487.5" rx="8.5" ry="2.3" fill="#c3beb3"/><ellipse cx="444.7" cy="488.4" rx="6.7" ry="1.4" fill="#9f9a90"/><ellipse cx="446.3" cy="480.9" rx="8.5" ry="2.3" fill="#c3beb3"/><ellipse cx="447.9" cy="481.8" rx="6.7" ry="1.4" fill="#9f9a90"/><ellipse cx="451.0" cy="542.0" rx="8.5" ry="2.3" fill="#c3beb3"/><ellipse cx="452.6" cy="542.9" rx="6.7" ry="1.4" fill="#9f9a90"/><ellipse cx="454.8" cy="533.0" rx="8.5" ry="2.3" fill="#c3beb3"/><ellipse cx="456.4" cy="533.9" rx="6.7" ry="1.4" fill="#9f9a90"/><ellipse cx="458.5" cy="524.5" rx="8.5" ry="2.3" fill="#c3beb3"/><ellipse cx="460.1" cy="525.4" rx="6.7" ry="1.4" fill="#9f9a90"/><ellipse cx="462.0" cy="516.3" rx="8.5" ry="2.3" fill="#c3beb3"/><ellipse cx="463.6" cy="517.2" rx="6.7" ry="1.4" fill="#9f9a90"/><ellipse cx="465.3" cy="508.5" rx="8.5" ry="2.3" fill="#c3beb3"/><ellipse cx="466.9" cy="509.4" rx="6.7" ry="1.4" fill="#9f9a90"/><ellipse cx="468.5" cy="501.0" rx="8.5" ry="2.3" fill="#c3beb3"/><ellipse cx="470.1" cy="501.9" rx="6.7" ry="1.4" fill="#9f9a90"/><ellipse cx="471.6" cy="493.9" rx="8.5" ry="2.3" fill="#c3beb3"/><ellipse cx="473.2" cy="494.8" rx="6.7" ry="1.4" fill="#9f9a90"/><ellipse cx="474.5" cy="487.1" rx="8.5" ry="2.3" fill="#c3beb3"/><ellipse cx="476.1" cy="488.0" rx="6.7" ry="1.4" fill="#9f9a90"/><ellipse cx="481.7" cy="549.9" rx="8.5" ry="2.3" fill="#c3beb3"/><ellipse cx="483.3" cy="550.8" rx="6.7" ry="1.4" fill="#9f9a90"/><ellipse cx="485.1" cy="540.7" rx="8.5" ry="2.3" fill="#c3beb3"/><ellipse cx="486.7" cy="541.6" rx="6.7" ry="1.4" fill="#9f9a90"/><ellipse cx="488.4" cy="531.9" rx="8.5" ry="2.3" fill="#c3beb3"/><ellipse cx="490.0" cy="532.8" rx="6.7" ry="1.4" fill="#9f9a90"/><ellipse cx="491.5" cy="523.6" rx="8.5" ry="2.3" fill="#c3beb3"/><ellipse cx="493.1" cy="524.5" rx="6.7" ry="1.4" fill="#9f9a90"/><ellipse cx="494.4" cy="515.6" rx="8.5" ry="2.3" fill="#c3beb3"/><ellipse cx="496.0" cy="516.5" rx="6.7" ry="1.4" fill="#9f9a90"/><ellipse cx="497.3" cy="507.9" rx="8.5" ry="2.3" fill="#c3beb3"/><ellipse cx="498.9" cy="508.8" rx="6.7" ry="1.4" fill="#9f9a90"/><ellipse cx="500.0" cy="500.6" rx="8.5" ry="2.3" fill="#c3beb3"/><ellipse cx="501.6" cy="501.5" rx="6.7" ry="1.4" fill="#9f9a90"/><ellipse cx="502.5" cy="493.6" rx="8.5" ry="2.3" fill="#c3beb3"/><ellipse cx="504.1" cy="494.5" rx="6.7" ry="1.4" fill="#9f9a90"/><ellipse cx="512.5" cy="558.1" rx="8.5" ry="2.3" fill="#c3beb3"/><ellipse cx="514.1" cy="559.0" rx="6.7" ry="1.4" fill="#9f9a90"/><ellipse cx="515.4" cy="548.7" rx="8.5" ry="2.3" fill="#c3beb3"/><ellipse cx="517.0" cy="549.6" rx="6.7" ry="1.4" fill="#9f9a90"/><ellipse cx="518.2" cy="539.8" rx="8.5" ry="2.3" fill="#c3beb3"/><ellipse cx="519.8" cy="540.7" rx="6.7" ry="1.4" fill="#9f9a90"/><ellipse cx="520.9" cy="531.3" rx="8.5" ry="2.3" fill="#c3beb3"/><ellipse cx="522.5" cy="532.2" rx="6.7" ry="1.4" fill="#9f9a90"/><ellipse cx="523.5" cy="523.1" rx="8.5" ry="2.3" fill="#c3beb3"/><ellipse cx="525.1" cy="524.0" rx="6.7" ry="1.4" fill="#9f9a90"/><ellipse cx="525.9" cy="515.3" rx="8.5" ry="2.3" fill="#c3beb3"/><ellipse cx="527.5" cy="516.2" rx="6.7" ry="1.4" fill="#9f9a90"/><ellipse cx="528.3" cy="507.8" rx="8.5" ry="2.3" fill="#c3beb3"/><ellipse cx="529.9" cy="508.7" rx="6.7" ry="1.4" fill="#9f9a90"/><ellipse cx="530.5" cy="500.6" rx="8.5" ry="2.3" fill="#c3beb3"/><ellipse cx="532.1" cy="501.5" rx="6.7" ry="1.4" fill="#9f9a90"/><ellipse cx="543.3" cy="566.8" rx="8.5" ry="2.3" fill="#c3beb3"/><ellipse cx="544.9" cy="567.7" rx="6.7" ry="1.4" fill="#9f9a90"/><ellipse cx="545.7" cy="557.3" rx="8.5" ry="2.3" fill="#c3beb3"/><ellipse cx="547.3" cy="558.2" rx="6.7" ry="1.4" fill="#9f9a90"/><ellipse cx="548.0" cy="548.2" rx="8.5" ry="2.3" fill="#c3beb3"/><ellipse cx="549.6" cy="549.1" rx="6.7" ry="1.4" fill="#9f9a90"/><ellipse cx="550.3" cy="539.5" rx="8.5" ry="2.3" fill="#c3beb3"/><ellipse cx="551.9" cy="540.4" rx="6.7" ry="1.4" fill="#9f9a90"/><ellipse cx="552.4" cy="531.2" rx="8.5" ry="2.3" fill="#c3beb3"/><ellipse cx="554.0" cy="532.1" rx="6.7" ry="1.4" fill="#9f9a90"/><ellipse cx="554.5" cy="523.2" rx="8.5" ry="2.3" fill="#c3beb3"/><ellipse cx="556.1" cy="524.1" rx="6.7" ry="1.4" fill="#9f9a90"/><ellipse cx="556.5" cy="515.5" rx="8.5" ry="2.3" fill="#c3beb3"/><ellipse cx="558.1" cy="516.4" rx="6.7" ry="1.4" fill="#9f9a90"/><ellipse cx="558.4" cy="508.2" rx="8.5" ry="2.3" fill="#c3beb3"/><ellipse cx="560.0" cy="509.1" rx="6.7" ry="1.4" fill="#9f9a90"/><ellipse cx="560.2" cy="501.2" rx="8.5" ry="2.3" fill="#c3beb3"/><ellipse cx="561.8" cy="502.1" rx="6.7" ry="1.4" fill="#9f9a90"/><ellipse cx="574.0" cy="576.1" rx="8.5" ry="2.3" fill="#c3beb3"/><ellipse cx="575.6" cy="577.0" rx="6.7" ry="1.4" fill="#9f9a90"/><ellipse cx="576.0" cy="566.5" rx="8.5" ry="2.3" fill="#c3beb3"/><ellipse cx="577.6" cy="567.4" rx="6.7" ry="1.4" fill="#9f9a90"/><ellipse cx="577.8" cy="557.3" rx="8.5" ry="2.3" fill="#c3beb3"/><ellipse cx="579.4" cy="558.2" rx="6.7" ry="1.4" fill="#9f9a90"/><ellipse cx="579.7" cy="548.5" rx="8.5" ry="2.3" fill="#c3beb3"/><ellipse cx="581.3" cy="549.4" rx="6.7" ry="1.4" fill="#9f9a90"/><ellipse cx="581.4" cy="540.0" rx="8.5" ry="2.3" fill="#c3beb3"/><ellipse cx="583.0" cy="540.9" rx="6.7" ry="1.4" fill="#9f9a90"/><ellipse cx="583.1" cy="531.8" rx="8.5" ry="2.3" fill="#c3beb3"/><ellipse cx="584.7" cy="532.7" rx="6.7" ry="1.4" fill="#9f9a90"/><ellipse cx="584.7" cy="524.0" rx="8.5" ry="2.3" fill="#c3beb3"/><ellipse cx="586.3" cy="524.9" rx="6.7" ry="1.4" fill="#9f9a90"/><ellipse cx="586.2" cy="516.5" rx="8.5" ry="2.3" fill="#c3beb3"/><ellipse cx="587.8" cy="517.4" rx="6.7" ry="1.4" fill="#9f9a90"/><ellipse cx="587.7" cy="509.3" rx="8.5" ry="2.3" fill="#c3beb3"/><ellipse cx="589.3" cy="510.2" rx="6.7" ry="1.4" fill="#9f9a90"/><ellipse cx="604.8" cy="586.2" rx="8.5" ry="2.3" fill="#c3beb3"/><ellipse cx="606.4" cy="587.1" rx="6.7" ry="1.4" fill="#9f9a90"/><ellipse cx="606.2" cy="576.5" rx="8.5" ry="2.3" fill="#c3beb3"/><ellipse cx="607.8" cy="577.4" rx="6.7" ry="1.4" fill="#9f9a90"/><ellipse cx="607.6" cy="567.2" rx="8.5" ry="2.3" fill="#c3beb3"/><ellipse cx="609.2" cy="568.1" rx="6.7" ry="1.4" fill="#9f9a90"/><ellipse cx="609.0" cy="558.2" rx="8.5" ry="2.3" fill="#c3beb3"/><ellipse cx="610.6" cy="559.1" rx="6.7" ry="1.4" fill="#9f9a90"/><ellipse cx="610.3" cy="549.6" rx="8.5" ry="2.3" fill="#c3beb3"/><ellipse cx="611.9" cy="550.5" rx="6.7" ry="1.4" fill="#9f9a90"/><ellipse cx="611.6" cy="541.3" rx="8.5" ry="2.3" fill="#c3beb3"/><ellipse cx="613.2" cy="542.2" rx="6.7" ry="1.4" fill="#9f9a90"/><ellipse cx="612.8" cy="533.3" rx="8.5" ry="2.3" fill="#c3beb3"/><ellipse cx="614.4" cy="534.2" rx="6.7" ry="1.4" fill="#9f9a90"/><ellipse cx="614.0" cy="525.6" rx="8.5" ry="2.3" fill="#c3beb3"/><ellipse cx="615.6" cy="526.5" rx="6.7" ry="1.4" fill="#9f9a90"/><ellipse cx="615.1" cy="518.3" rx="8.5" ry="2.3" fill="#c3beb3"/><ellipse cx="616.7" cy="519.2" rx="6.7" ry="1.4" fill="#9f9a90"/><ellipse cx="635.5" cy="592.8" rx="8.5" ry="2.3" fill="#c3beb3"/><ellipse cx="637.1" cy="593.7" rx="6.7" ry="1.4" fill="#9f9a90"/><ellipse cx="636.5" cy="583.0" rx="8.5" ry="2.3" fill="#c3beb3"/><ellipse cx="638.1" cy="583.9" rx="6.7" ry="1.4" fill="#9f9a90"/><ellipse cx="637.5" cy="573.6" rx="8.5" ry="2.3" fill="#c3beb3"/><ellipse cx="639.1" cy="574.5" rx="6.7" ry="1.4" fill="#9f9a90"/><ellipse cx="638.4" cy="564.6" rx="8.5" ry="2.3" fill="#c3beb3"/><ellipse cx="640.0" cy="565.5" rx="6.7" ry="1.4" fill="#9f9a90"/><ellipse cx="639.3" cy="555.9" rx="8.5" ry="2.3" fill="#c3beb3"/><ellipse cx="640.9" cy="556.8" rx="6.7" ry="1.4" fill="#9f9a90"/><ellipse cx="640.1" cy="547.5" rx="8.5" ry="2.3" fill="#c3beb3"/><ellipse cx="641.7" cy="548.4" rx="6.7" ry="1.4" fill="#9f9a90"/><ellipse cx="640.9" cy="539.5" rx="8.5" ry="2.3" fill="#c3beb3"/><ellipse cx="642.5" cy="540.4" rx="6.7" ry="1.4" fill="#9f9a90"/><ellipse cx="641.7" cy="531.7" rx="8.5" ry="2.3" fill="#c3beb3"/><ellipse cx="643.3" cy="532.6" rx="6.7" ry="1.4" fill="#9f9a90"/><ellipse cx="642.5" cy="524.3" rx="8.5" ry="2.3" fill="#c3beb3"/><ellipse cx="644.1" cy="525.2" rx="6.7" ry="1.4" fill="#9f9a90"/><ellipse cx="643.2" cy="517.1" rx="8.5" ry="2.3" fill="#c3beb3"/><ellipse cx="644.8" cy="518.0" rx="6.7" ry="1.4" fill="#9f9a90"/><ellipse cx="666.3" cy="593.4" rx="8.5" ry="2.3" fill="#c3beb3"/><ellipse cx="667.9" cy="594.3" rx="6.7" ry="1.4" fill="#9f9a90"/><ellipse cx="666.8" cy="583.6" rx="8.5" ry="2.3" fill="#c3beb3"/><ellipse cx="668.4" cy="584.5" rx="6.7" ry="1.4" fill="#9f9a90"/><ellipse cx="667.3" cy="574.2" rx="8.5" ry="2.3" fill="#c3beb3"/><ellipse cx="668.9" cy="575.1" rx="6.7" ry="1.4" fill="#9f9a90"/><ellipse cx="667.8" cy="565.2" rx="8.5" ry="2.3" fill="#c3beb3"/><ellipse cx="669.4" cy="566.1" rx="6.7" ry="1.4" fill="#9f9a90"/><ellipse cx="668.2" cy="556.6" rx="8.5" ry="2.3" fill="#c3beb3"/><ellipse cx="669.8" cy="557.5" rx="6.7" ry="1.4" fill="#9f9a90"/><ellipse cx="668.7" cy="548.2" rx="8.5" ry="2.3" fill="#c3beb3"/><ellipse cx="670.3" cy="549.1" rx="6.7" ry="1.4" fill="#9f9a90"/><ellipse cx="669.1" cy="540.3" rx="8.5" ry="2.3" fill="#c3beb3"/><ellipse cx="670.7" cy="541.2" rx="6.7" ry="1.4" fill="#9f9a90"/><ellipse cx="669.5" cy="532.6" rx="8.5" ry="2.3" fill="#c3beb3"/><ellipse cx="671.1" cy="533.5" rx="6.7" ry="1.4" fill="#9f9a90"/><ellipse cx="669.9" cy="525.2" rx="8.5" ry="2.3" fill="#c3beb3"/><ellipse cx="671.5" cy="526.1" rx="6.7" ry="1.4" fill="#9f9a90"/><ellipse cx="697.0" cy="586.2" rx="8.5" ry="2.3" fill="#c3beb3"/><ellipse cx="698.6" cy="587.1" rx="6.7" ry="1.4" fill="#9f9a90"/><ellipse cx="697.1" cy="576.4" rx="8.5" ry="2.3" fill="#c3beb3"/><ellipse cx="698.7" cy="577.3" rx="6.7" ry="1.4" fill="#9f9a90"/><ellipse cx="697.1" cy="567.1" rx="8.5" ry="2.3" fill="#c3beb3"/><ellipse cx="698.7" cy="568.0" rx="6.7" ry="1.4" fill="#9f9a90"/><ellipse cx="697.2" cy="558.2" rx="8.5" ry="2.3" fill="#c3beb3"/><ellipse cx="698.8" cy="559.1" rx="6.7" ry="1.4" fill="#9f9a90"/><ellipse cx="697.2" cy="549.8" rx="8.5" ry="2.3" fill="#c3beb3"/><ellipse cx="698.8" cy="550.7" rx="6.7" ry="1.4" fill="#9f9a90"/><ellipse cx="697.2" cy="541.8" rx="8.5" ry="2.3" fill="#c3beb3"/><ellipse cx="698.8" cy="542.7" rx="6.7" ry="1.4" fill="#9f9a90"/><ellipse cx="697.3" cy="534.1" rx="8.5" ry="2.3" fill="#c3beb3"/><ellipse cx="698.9" cy="535.0" rx="6.7" ry="1.4" fill="#9f9a90"/><ellipse cx="697.3" cy="526.8" rx="8.5" ry="2.3" fill="#c3beb3"/><ellipse cx="698.9" cy="527.7" rx="6.7" ry="1.4" fill="#9f9a90"/><ellipse cx="727.8" cy="574.3" rx="8.5" ry="2.3" fill="#c3beb3"/><ellipse cx="729.4" cy="575.2" rx="6.7" ry="1.4" fill="#9f9a90"/><ellipse cx="727.3" cy="564.6" rx="8.5" ry="2.3" fill="#c3beb3"/><ellipse cx="728.9" cy="565.5" rx="6.7" ry="1.4" fill="#9f9a90"/><ellipse cx="726.9" cy="555.6" rx="8.5" ry="2.3" fill="#c3beb3"/><ellipse cx="728.5" cy="556.5" rx="6.7" ry="1.4" fill="#9f9a90"/><ellipse cx="726.5" cy="547.1" rx="8.5" ry="2.3" fill="#c3beb3"/><ellipse cx="728.1" cy="548.0" rx="6.7" ry="1.4" fill="#9f9a90"/><ellipse cx="726.2" cy="539.1" rx="8.5" ry="2.3" fill="#c3beb3"/><ellipse cx="727.8" cy="540.0" rx="6.7" ry="1.4" fill="#9f9a90"/><ellipse cx="758.5" cy="562.4" rx="8.5" ry="2.3" fill="#c3beb3"/><ellipse cx="760.1" cy="563.3" rx="6.7" ry="1.4" fill="#9f9a90"/><ellipse cx="757.6" cy="553.0" rx="8.5" ry="2.3" fill="#c3beb3"/><ellipse cx="759.2" cy="553.9" rx="6.7" ry="1.4" fill="#9f9a90"/><ellipse cx="756.8" cy="544.4" rx="8.5" ry="2.3" fill="#c3beb3"/><ellipse cx="758.4" cy="545.3" rx="6.7" ry="1.4" fill="#9f9a90"/><ellipse cx="789.3" cy="550.6" rx="8.5" ry="2.3" fill="#c3beb3"/><ellipse cx="790.9" cy="551.5" rx="6.7" ry="1.4" fill="#9f9a90"/></g><path d="M224,496 C380,528 520,562 600,590 C640,602 670,602 700,590 L814,547" stroke="#8d8b86" stroke-width="4.4" fill="none"/><path d="M403,357 L434,357 C442,390.95 426,420.05 433,454 L449,454 L420,485 L390,454 L404,454 C395,420.05 411,390.95 403,357 Z" fill="url(#og1)"/><path d="M434,357 C442,390.95 426,420.05 433,454" stroke="#e07318" stroke-width="3" fill="none"/><path d="M477,432 L508,432 C514,465 498,495 503,521 L472,521 C466,495 485,465 477,432 Z" fill="url(#og1)"/><path d="M508,432 C514,465 498,495 503,521" stroke="#e07318" stroke-width="3" fill="none"/><path d="M571,401 L602,401 C610,434.6 594,463.4 601,497 L615,497 L587,528 L558,497 L572,497 C563,463.4 579,434.6 571,401 Z" fill="url(#og1)"/><path d="M602,401 C610,434.6 594,463.4 601,497" stroke="#e07318" stroke-width="3" fill="none"/><path d="M61.4,518.7 L139.7,530.1 L140.3,525.5 L61.8,516.1 Z" fill="#e6424a"/><path d="M165.6,532.2 Q148.6,525.5 135.8,517.6 L140,527.8 L133.6,538.4 Q147.7,533.8 165.6,532.2 Z" fill="#e6424a"/>
<path d="M242.6,436.1 L318.2,456.0 L319.4,451.6 L243.2,433.5 Z" fill="#e6424a"/><path d="M342.5,462.2 Q327.5,453.0 316.8,443.4 L318.8,453.8 L311.9,463.7 Q325.5,461.1 342.5,462.2 Z" fill="#e6424a"/>
<path d="M572.2,356.0 L507.6,401.9 L510.4,405.7 L573.8,358.0 Z" fill="#e6424a"/><path d="M488.4,419.2 Q500.3,405.3 507.9,392.2 L509,403.8 L520.5,408.8 Q505.4,412.0 488.4,419.2 Z" fill="#e6424a"/>
<path d="M985.3,556.7 L880.3,567.7 L880.9,572.3 L985.5,559.3 Z" fill="#e6424a"/><path d="M845.4,573.5 Q868.8,566.6 886.2,558 L880.6,570 L889.6,579.7 Q870.1,575.3 845.4,573.5 Z" fill="#e6424a"/>
<path d="M797.7,718.6 L724.7,692.6 L723.3,697.0 L796.9,721.0 Z" fill="#e6424a"/><path d="M697.4,687.8 Q716.0,689.4 730.5,688.3 L724,694.8 L724,707 Q713.4,696.9 697.4,687.8 Z" fill="#e6424a"/>
<text x="440" y="357" font-size="32" fill="#da5657" stroke="#f6eee1" stroke-width="0.3" textLength="124" lengthAdjust="spacingAndGlyphs">Повітря</text>
<text x="35" y="480" font-size="32" fill="#da5657" stroke="#f6eee1" stroke-width="0.3" textLength="87" lengthAdjust="spacingAndGlyphs">Потік</text>
<text x="20" y="504" font-size="32" fill="#da5657" stroke="#f6eee1" stroke-width="0.3" textLength="116" lengthAdjust="spacingAndGlyphs">повітря</text>
<text x="218" y="407" font-size="31.5" fill="#da5657" stroke="#f6eee1" stroke-width="0.3" textLength="165" lengthAdjust="spacingAndGlyphs">Зовнішній</text>
<text x="268" y="431" font-size="31.5" fill="#da5657" stroke="#f6eee1" stroke-width="0.3" textLength="65" lengthAdjust="spacingAndGlyphs">шар</text>
<text x="813" y="523" font-size="31.5" fill="#da5657" stroke="#f6eee1" stroke-width="0.3" textLength="182" lengthAdjust="spacingAndGlyphs">Проміжний</text>
<text x="870" y="547" font-size="31.5" fill="#da5657" stroke="#f6eee1" stroke-width="0.3" textLength="65" lengthAdjust="spacingAndGlyphs">шар</text>
<text x="661" y="743" font-size="31.5" fill="#da5657" stroke="#f6eee1" stroke-width="0.3" textLength="180" lengthAdjust="spacingAndGlyphs">Внутрішній</text>
<text x="718" y="767" font-size="31.5" fill="#da5657" stroke="#f6eee1" stroke-width="0.3" textLength="65" lengthAdjust="spacingAndGlyphs">шар</text>
<text x="471" y="846" font-size="31" fill="#da5657" stroke="#f6eee1" stroke-width="0.3" textLength="283" lengthAdjust="spacingAndGlyphs">Сотова структура</text>
<text x="385" y="886" font-size="31" fill="#da5657" stroke="#f6eee1" stroke-width="0.3" textLength="457" lengthAdjust="spacingAndGlyphs">з вентиляційними отворами,</text>
<text x="477" y="924" font-size="31" fill="#da5657" stroke="#f6eee1" stroke-width="0.3" textLength="272" lengthAdjust="spacingAndGlyphs">висока щільність</text>
<text x="302" y="1039" font-size="31" fill="#da5657" stroke="#f6eee1" stroke-width="0.3" textLength="409" lengthAdjust="spacingAndGlyphs">(Схематичне зображення</text>
<text x="301" y="1076" font-size="31" fill="#da5657" stroke="#f6eee1" stroke-width="0.3" textLength="246" lengthAdjust="spacingAndGlyphs">дихаючої сітки)</text>
</g><path d="M93,1105 Q100,1100.5 125,1100.5 L200,1100.5 Q222,1100.5 228,1105 Q222,1109 200,1109 L125,1109 Q100,1109 93,1105 Z" fill="#9c9b94" filter="url(#blur3)"/><g clip-path="url(#circ)" filter="url(#blur1)"><rect x="15" y="800" width="290" height="290" fill="url(#mesh)"/><rect x="15" y="800" width="290" height="290" fill="url(#meshSh)"/><rect x="15" y="800" width="290" height="290" fill="url(#meshHi)"/></g><circle cx="159" cy="943" r="139" fill="none" stroke="#e4575e" stroke-width="2.2"/></svg></body></html>
